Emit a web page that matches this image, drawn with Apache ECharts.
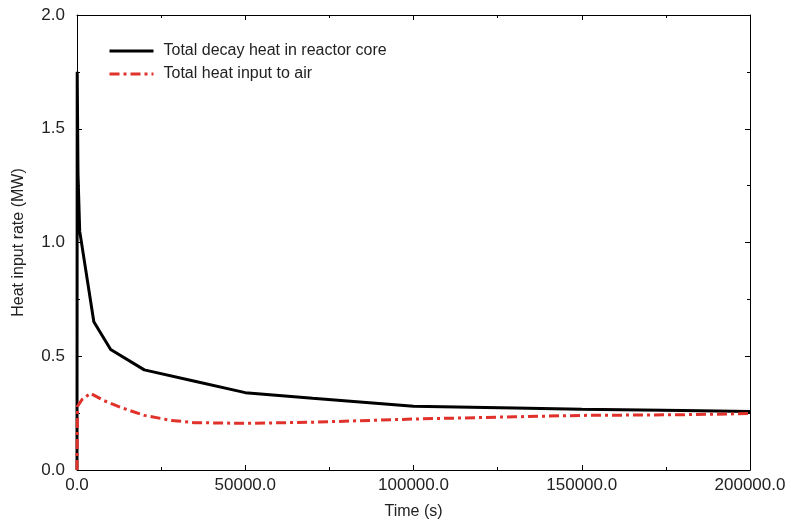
<!DOCTYPE html>
<html>
<head>
<meta charset="utf-8">
<script src="https://cdn.jsdelivr.net/npm/echarts@6/dist/echarts.min.js"></script>
<style>
  html, body { margin: 0; padding: 0; background: #fff; }
  #chart { width: 791px; height: 527px; }
</style>
</head>
<body>
<div id="chart"></div>
<script>
// data: [time s, MW]
var decayHeat = [
  [0, 0], [60, 1.75], [300, 1.3], [800, 1.05], [5000, 0.652], [10000, 0.53],
  [20000, 0.44], [35000, 0.39], [50000, 0.34], [70000, 0.315], [100000, 0.28],
  [130000, 0.273], [150000, 0.267], [180000, 0.262], [200000, 0.257]
];
var airHeat = [
  [0, 0], [150, 0.28], [1500, 0.31], [4000, 0.337], [8000, 0.305], [13000, 0.275],
  [20000, 0.24], [28000, 0.218], [35000, 0.208], [50000, 0.205], [70000, 0.21],
  [100000, 0.224], [130000, 0.234], [150000, 0.24], [180000, 0.243], [200000, 0.248]
];
var seriesNames = ['Total decay heat in reactor core', 'Total heat input to air'];

var chart = echarts.init(document.getElementById('chart'));
var font = 'Liberation Sans, Arial, Helvetica, sans-serif';
var axisCommon = {
  axisLine: { show: true, onZero: false, lineStyle: { color: '#000', width: 1 } },
  axisTick: { show: true, inside: true, length: 5, lineStyle: { color: '#000' } },
  minorTick: { show: true, splitNumber: 2, length: 3, lineStyle: { color: '#000' } },
  splitLine: { show: false }
};

var option = {
  animation: false,
  backgroundColor: '#fff',
  textStyle: { fontFamily: font },
  grid: { left: 77, right: 41, top: 15, bottom: 57 },
  legend: {
    orient: 'vertical',
    left: 108,
    top: 43,
    padding: 0,
    itemWidth: 44,
    itemHeight: 10,
    itemGap: 7,
    itemStyle: { opacity: 0 },
    lineStyle: { width: 3 },
    textStyle: { fontSize: 16, color: '#222', fontFamily: font, padding: [0, 0, 0, 5] },
    data: seriesNames
  },
  xAxis: [
    Object.assign({}, axisCommon, {
      type: 'value', min: 0, max: 200000, interval: 50000,
      name: 'Time (s)', nameLocation: 'middle', nameGap: 34,
      nameTextStyle: { fontSize: 16, color: '#222' },
      axisLabel: { fontSize: 17, color: '#222', margin: 7,
        formatter: function (v) { return v.toFixed(1); } }
    }),
    Object.assign({}, axisCommon, {
      type: 'value', position: 'top', min: 0, max: 200000, interval: 50000,
      axisLabel: { show: false }
    })
  ],
  yAxis: [
    Object.assign({}, axisCommon, {
      type: 'value', min: 0, max: 2, interval: 0.5,
      name: 'Heat input rate (MW)', nameLocation: 'middle', nameGap: 50,
      nameTextStyle: { fontSize: 16, color: '#222' },
      axisLabel: { fontSize: 17, color: '#222', margin: 12,
        formatter: function (v) { return v.toFixed(1); } }
    }),
    Object.assign({}, axisCommon, {
      type: 'value', position: 'right', min: 0, max: 2, interval: 0.5,
      axisLabel: { show: false }
    })
  ],
  series: [
    {
      name: seriesNames[0], type: 'line', data: decayHeat,
      showSymbol: false, symbol: 'none',
      lineStyle: { color: '#000', width: 3 }, itemStyle: { color: '#000' }
    },
    {
      name: seriesNames[1], type: 'line', data: airHeat,
      showSymbol: false, symbol: 'none',
      lineStyle: { color: '#e0312b', width: 3, type: [10, 4, 3, 4] },
      itemStyle: { color: '#e0312b' }
    }
  ]
};
chart.setOption(option);
</script>
</body>
</html>
